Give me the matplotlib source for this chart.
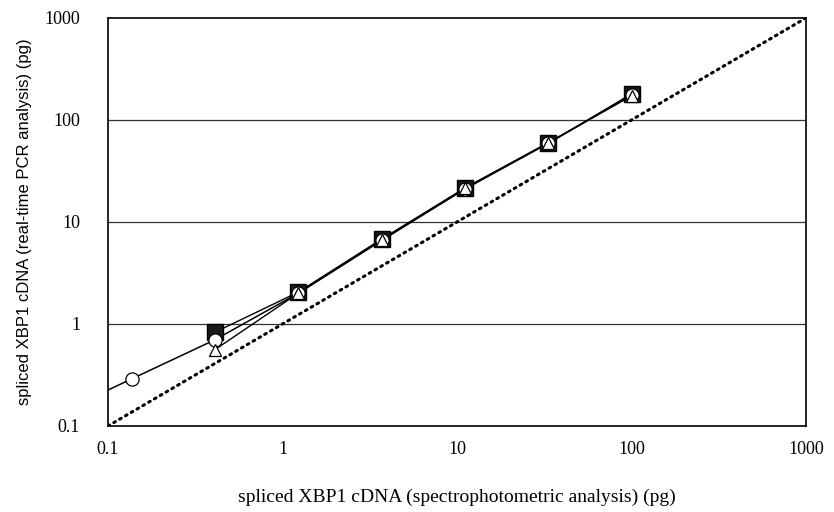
import numpy as np
import matplotlib
matplotlib.use('Agg')
import matplotlib.pyplot as plt

# spectrophotometric amounts (pg), 3-fold dilutions
x_spec = [0.41, 1.23, 3.7, 11.1, 33.3, 100]
x_spec_circle = [0.137, 0.41, 1.23, 3.7, 11.1, 33.3, 100]

# real-time PCR amounts (pg)
y_square = [0.83, 2.05, 6.8, 21.5, 59, 180]
y_triangle = [0.56, 2.0, 6.6, 21.5, 60, 172]
y_circle = [0.29, 0.70, 2.0, 6.6, 21.0, 59, 175]

identity = [0.1, 1000]
ticks = [0.1, 1, 10, 100, 1000]
tick_labels = ['0.1', '1', '10', '100', '1000']

fig = plt.figure(figsize=(8.34, 5.12), dpi=100)
ax = fig.add_axes([0.1295, 0.168, 0.837, 0.797])

ax.set_xscale('log')
ax.set_yscale('log')
ax.set_xlim(0.1, 1000)
ax.set_ylim(0.1, 1000)

for v in [1, 10, 100]:
    ax.axhline(v, color='#333333', lw=0.9, zorder=1)

# identity line
ax.plot(identity, identity, color='black', lw=2.2, ls=(0, (0.6, 1.6)), dash_capstyle='round', zorder=2)

# circle series line, first segment carried back to the axis edge
lx = np.log10(x_spec_circle)
ly = np.log10(y_circle)
slope = (ly[1] - ly[0]) / (lx[1] - lx[0])
y_edge = 10 ** (ly[0] + slope * (np.log10(0.1) - lx[0]))
ax.plot([0.1] + x_spec_circle, [y_edge] + y_circle, color='black', lw=1.1, zorder=3)

ax.plot(x_spec, y_square, color='black', lw=1.0, zorder=3)
ax.plot(x_spec, y_triangle, color='black', lw=1.0, zorder=3)

ax.plot(x_spec, y_square, ls='none', marker='s', ms=12, mfc='#1a1a1a', mec='black', zorder=4)
ax.plot(x_spec_circle, y_circle, ls='none', marker='o', ms=9.5, mfc='white', mec='black', mew=0.9, zorder=5)
ax.plot(x_spec, y_triangle, ls='none', marker='^', ms=8, mfc='white', mec='black', mew=0.9, zorder=6)

ax.set_xticks(ticks)
ax.set_xticklabels(tick_labels, family='Liberation Serif', fontsize=13)
ax.set_yticks(ticks)
ax.set_yticklabels(tick_labels, family='Liberation Serif', fontsize=13)
ax.minorticks_off()
ax.tick_params(axis='x', length=0, pad=11)
ax.tick_params(axis='y', length=0, pad=20)

for s in ax.spines.values():
    s.set_linewidth(1.2)

ax.set_xlabel('spliced XBP1 cDNA (spectrophotometric analysis) (pg)', family='Liberation Serif', fontsize=14, labelpad=22)
ax.set_ylabel('spliced XBP1 cDNA (real-time PCR analysis) (pg)', family='Liberation Sans', fontsize=12, labelpad=9)

fig.savefig('out.png', dpi=100)
